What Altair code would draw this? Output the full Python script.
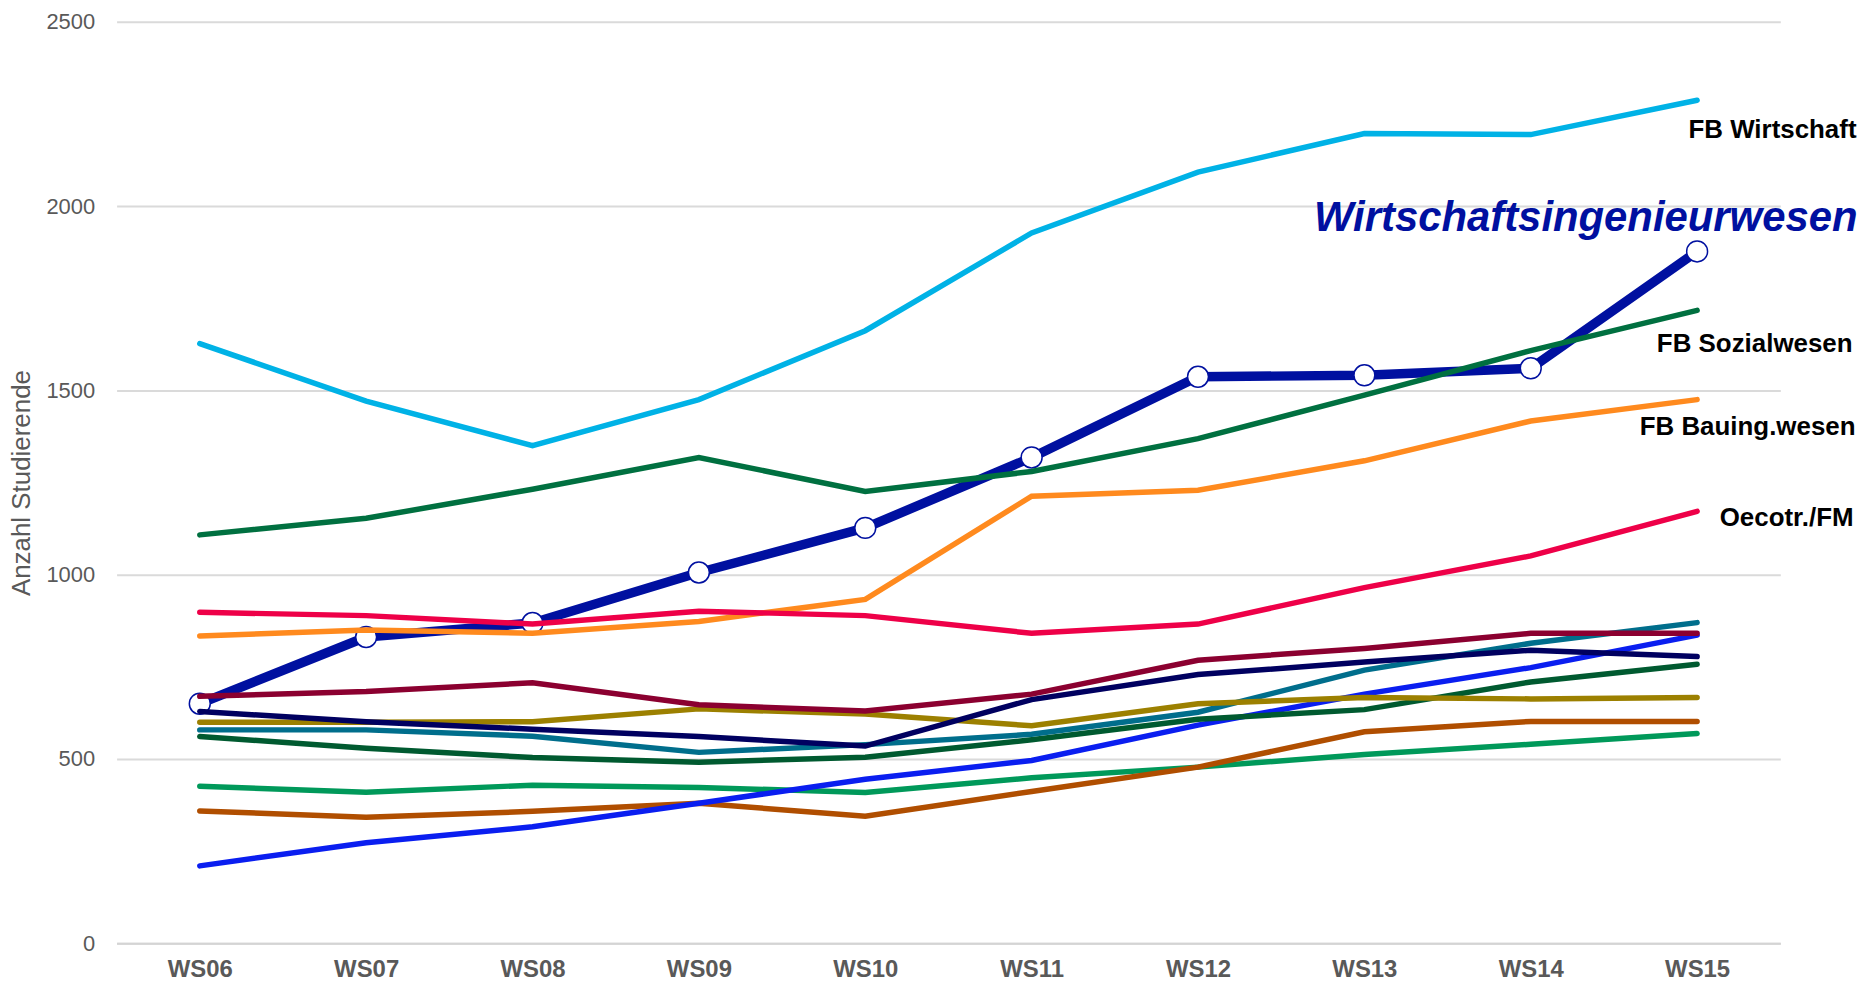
import altair as alt
import pandas as pd

semesters = ["WS06", "WS07", "WS08", "WS09", "WS10", "WS11", "WS12", "WS13", "WS14", "WS15"]

fb_wirtschaft = [1627, 1471, 1350, 1475, 1662, 1927, 2092, 2197, 2194, 2287]
wirtschaftsing = [650, 831, 869, 1006, 1127, 1318, 1537, 1541, 1560, 1877]
fb_sozialwesen = [1108, 1153, 1232, 1318, 1226, 1280, 1369, 1487, 1608, 1717]
fb_bauing = [834, 850, 841, 873, 933, 1213, 1229, 1309, 1417, 1475]
oecotr = [898, 889, 866, 901, 889, 841, 866, 965, 1051, 1172]
reihe_maroon = [670, 683, 707, 647, 630, 676, 768, 800, 841, 841]
reihe_navy = [629, 601, 581, 561, 535, 661, 729, 763, 795, 778]
reihe_olive = [600, 600, 601, 636, 622, 590, 650, 667, 663, 667]
reihe_teal = [579, 579, 562, 518, 539, 567, 627, 741, 814, 870]
reihe_darkgreen = [561, 529, 504, 491, 505, 552, 608, 634, 709, 757]
reihe_seagreen = [426, 410, 429, 423, 409, 449, 478, 512, 540, 569]
reihe_brown = [359, 342, 358, 380, 345, 412, 478, 574, 602, 602]
reihe_blue = [210, 273, 316, 380, 445, 496, 592, 676, 748, 836]

thin_names = ["Reihe A", "Reihe B", "Reihe C", "Reihe D", "Reihe E", "Reihe F",
              "Reihe G", "Reihe H", "FB Wirtschaft", "FB Sozialwesen",
              "FB Bauing.wesen", "Oecotr./FM"]
thin_values = [reihe_seagreen, reihe_brown, reihe_blue, reihe_darkgreen, reihe_teal,
               reihe_olive, reihe_navy, reihe_maroon, fb_wirtschaft, fb_sozialwesen,
               fb_bauing, oecotr]
thin_colors = ["#00995a", "#b04e00", "#0a1ef0", "#005a30", "#006e8c", "#9c8000",
               "#000060", "#8b0030", "#00b2e6", "#007040", "#ff8a1e", "#ee0048"]

main_name = "Wirtschaftsingenieurwesen"
main_color = "#0010a0"

rows = []
for name, vals in zip(thin_names, thin_values):
    for s, v in zip(semesters, vals):
        rows.append({"semester": s, "value": v, "series": name})
for s, v in zip(semesters, wirtschaftsing):
    rows.append({"semester": s, "value": v, "series": main_name})
df = pd.DataFrame(rows)

FONT = "Liberation Sans"
GREY = "#595959"

x_enc = alt.X(
    "semester:O",
    sort=semesters,
    scale=alt.Scale(type="point", padding=0.5),
    title=None,
    axis=alt.Axis(
        labelAngle=0, labelFont=FONT, labelFontSize=24, labelFontWeight="bold",
        labelColor=GREY, ticks=False, tickSize=0, labelPadding=14,
        domain=True, domainColor="#d4d4d4", domainWidth=2, grid=False,
    ),
)
y_enc = alt.Y(
    "value:Q",
    scale=alt.Scale(domain=[0, 2500], nice=False),
    title="Anzahl Studierende",
    axis=alt.Axis(
        values=[0, 500, 1000, 1500, 2000, 2500], format="d",
        labelFont=FONT, labelFontSize=22, labelColor=GREY, labelPadding=22,
        ticks=False, tickSize=0, domain=False,
        grid=True, gridColor="#dadada", gridWidth=2,
        titleFont=FONT, titleFontSize=26, titleFontWeight="normal",
        titleColor=GREY, titlePadding=11,
    ),
)

base = alt.Chart(df)

main_line = base.transform_filter(alt.datum.series == main_name).mark_line(
    color=main_color, strokeWidth=9.5, strokeCap="round", strokeJoin="round"
).encode(x=x_enc, y=y_enc)

main_points = base.transform_filter(alt.datum.series == main_name).mark_point(
    shape="circle", filled=True, fill="white", stroke=main_color,
    strokeWidth=1.5, size=440, opacity=1
).encode(x=x_enc, y=y_enc)

thin_lines = base.transform_filter(alt.datum.series != main_name).mark_line(
    strokeWidth=5.5, strokeCap="round"
).encode(
    x=x_enc, y=y_enc,
    color=alt.Color("series:N", scale=alt.Scale(domain=thin_names, range=thin_colors),
                    legend=None),
    order=alt.Order("semester:O"),
)

label_names = ["FB Wirtschaft", main_name, "FB Sozialwesen", "FB Bauing.wesen", "Oecotr./FM"]
label_dx = [160, 161, 156, 159, 157]
label_dy = [38, -21, 42, 36, 15]
label_size = [26, 42, 26, 26, 26]
label_style = ["normal", "italic", "normal", "normal", "normal"]
label_color = ["#000000", main_color, "#000000", "#000000", "#000000"]

text_layers = []
for name, dx, dy, fs, st, col in zip(label_names, label_dx, label_dy, label_size,
                                     label_style, label_color):
    text_layers.append(
        base.transform_filter(
            (alt.datum.series == name) & (alt.datum.semester == semesters[-1])
        ).mark_text(
            align="right", baseline="alphabetic", dx=dx, dy=dy, font=FONT,
            fontSize=fs, fontWeight="bold", fontStyle=st, color=col
        ).encode(x=x_enc, y=y_enc, text="series:N")
    )

chart = alt.layer(main_line, main_points, thin_lines, *text_layers).properties(
    width=1670,
    height=925,
    padding={"left": 109, "top": 12, "right": 80, "bottom": 38},
    autosize=alt.AutoSizeParams(type="none"),
    background="white",
).configure_view(stroke=None)

chart.save("out.html", embed_options={"renderer": "svg", "actions": False})
